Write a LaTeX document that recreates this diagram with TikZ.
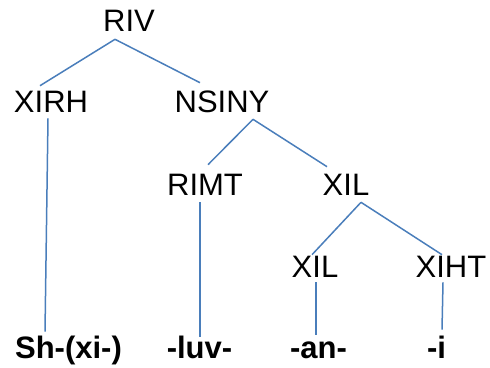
\documentclass[tikz,border=0pt]{standalone}
\usepackage{fontspec}
\setmainfont{Liberation Sans}
\usetikzlibrary{calc}
\definecolor{branch}{RGB}{74,126,187}
\begin{document}
\begin{tikzpicture}[x=1pt,y=-1pt,
  lbl/.style={inner sep=0pt,font=\fontsize{31}{31}\selectfont,text height=22.2pt,text depth=0pt,anchor=center},
  mrph/.style={lbl,font=\fontsize{31}{31}\selectfont\bfseries},
  br/.style={draw=branch,line width=1.5pt}]
\useasboundingbox (0,0) rectangle (490,367);
\node[lbl] (riv) at (129,20) {RIV};
\node[lbl] (xirh) at (51,101) {XIRH};
\node[lbl] (nsiny) at (222,101) {NSINY};
\node[lbl] (rimt) at (205,184) {RIMT};
\node[lbl] (xil) at (346,184) {XIL};
\node[lbl] (xil2) at (315,266) {XIL};
\node[lbl] (xiht) at (451,266) {XIHT};
\node[mrph] (sh) at (68.5,347) {Sh-(xi-)};
\node[mrph] (luv) at (199.5,347) {-luv-};
\node[mrph] (an) at (318.5,347) {-an-};
\node[mrph] (i) at (436.5,347) {-i};
\draw[br] ($(riv.south)+(-14,8)$) -- ($(xirh.north)+(-11,-4)$);
\draw[br] ($(riv.south)+(-14,8)$) -- ($(nsiny.north)+(-22,-7)$);
\draw[br] ($(xirh.south)+(-3,6)$) -- ($(sh.north)+(-23.5,-4)$);
\draw[br] ($(nsiny.south)+(31,7)$) -- ($(rimt.north)+(3,-8)$);
\draw[br] ($(nsiny.south)+(31,7)$) -- ($(xil.north)+(-19,-6)$);
\draw[br] ($(rimt.south)+(-5,7)$) -- ($(luv.north)+(0.5,1)$);
\draw[br] ($(xil.south)+(15,7)$) -- ($(xil2.north)+(-3,0)$);
\draw[br] ($(xil.south)+(15,7)$) -- ($(xiht.north)+(-9,0)$);
\draw[br] ($(xil2.south)+(1,5)$) -- ($(an.north)+(-2.5,-1)$);
\draw[br] ($(xiht.south)+(-8,5)$) -- ($(i.north)+(5.5,-6)$);
\end{tikzpicture}
\end{document}
